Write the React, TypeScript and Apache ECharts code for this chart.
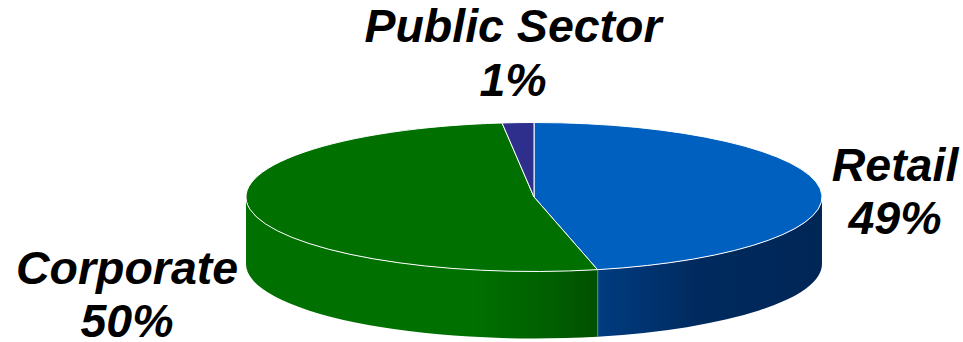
import React, { useEffect, useRef } from "react";
import * as echarts from "echarts";

const categories = ["Retail", "Corporate", "Public Sector"];
const percentLabels = ["49%", "50%", "1%"];
// Share of the rim each slice occupies, as measured on the drawn ellipse.
const rimShares = [46.46, 51.77, 1.77];
const topColors = ["#0060C0", "#007000", "#2E2E8C"];

const CX = 534, CY = 197, RX = 288, RY = 74.5, DEPTH = 67;

const pt = (deg: number, dy = 0): [number, number] => {
  const r = (deg * Math.PI) / 180;
  return [CX + RX * Math.sin(r), CY - RY * Math.cos(r) + dy];
};
const wallFills = [
  new echarts.graphic.LinearGradient(598, 0, 822, 0, [
    { offset: 0, color: "#003C80" },
    { offset: 0.45, color: "#002A5E" },
    { offset: 1, color: "#002656" },
  ], true),
  new echarts.graphic.LinearGradient(246, 0, 598, 0, [
    { offset: 0, color: "#007000" },
    { offset: 0.65, color: "#007000" },
    { offset: 0.85, color: "#006000" },
    { offset: 1, color: "#005000" },
  ], true),
  "#20205F",
];

const labelPlacement = [
  { x: 895, y1: 165, y2: 218 },
  { x: 127, y1: 268, y2: 320.5 },
  { x: 513, y1: 26, y2: 80 },
];

const labelText = (text: string, x: number, y: number) => ({
  type: "text",
  x,
  y,
  style: {
    text,
    align: "center",
    verticalAlign: "middle",
    fill: "#000000",
    font: 'italic bold 46.5px "Liberation Sans"',
    lineHeight: 36,
  },
});

export default function App() {
  const ref = useRef<HTMLDivElement>(null);
  useEffect(() => {
    const chart = echarts.init(ref.current!, null, { renderer: "svg" });
    const total = rimShares.reduce((a, b) => a + b, 0);
    const renderItem = (params: any, api: any) => {
      const i = params.dataIndex;
      let before = 0;
      for (let k = 0; k < i; k++) before += rimShares[k];
      const a = (before / total) * 360;
      const b = a + (api.value(0) / total) * 360;
      const children: any[] = [];
      const wa = Math.max(a, 90), wb = Math.min(b, 270);
      if (wb > wa) {
        const [x0, y0] = pt(wa), [x1, y1] = pt(wb);
        const [x2, y2] = pt(wb, DEPTH), [x3, y3] = pt(wa, DEPTH);
        children.push({
          type: "path",
          shape: { pathData: `M${x0} ${y0}A${RX} ${RY} 0 0 1 ${x1} ${y1}L${x2} ${y2}A${RX} ${RY} 0 0 0 ${x3} ${y3}Z` },
          style: { fill: wallFills[i] },
        });
        if (wb < 270) {
          children.push({
            type: "line",
            shape: { x1, y1, x2, y2 },
            style: { stroke: "#B4C8B4", lineWidth: 1.2 },
          });
        }
      }
      const [sx, sy] = pt(a), [ex, ey] = pt(b);
      children.push({
        type: "path",
        shape: { pathData: `M${CX} ${CY}L${sx} ${sy}A${RX} ${RY} 0 ${b - a > 180 ? 1 : 0} 1 ${ex} ${ey}Z` },
        style: { fill: topColors[i], stroke: "#FFFFFF", lineWidth: 1, lineJoin: "round" },
      });
      return { type: "group", children };
    };
    chart.setOption({
      animation: false,
      backgroundColor: "#FFFFFF",
      series: [{
        type: "custom",
        coordinateSystem: "none",
        renderItem,
        silent: true,
        data: rimShares.map((v, i) => ({ name: categories[i], value: [v] })),
      }],
      graphic: categories.flatMap((c, i) => [
        labelText(c, labelPlacement[i].x, labelPlacement[i].y1),
        labelText(percentLabels[i], labelPlacement[i].x, labelPlacement[i].y2),
      ]),
    });
    return () => chart.dispose();
  }, []);
  return <div ref={ref} style={{ position: "absolute", left: 0, top: 0, width: 963, height: 342 }} />;
}
